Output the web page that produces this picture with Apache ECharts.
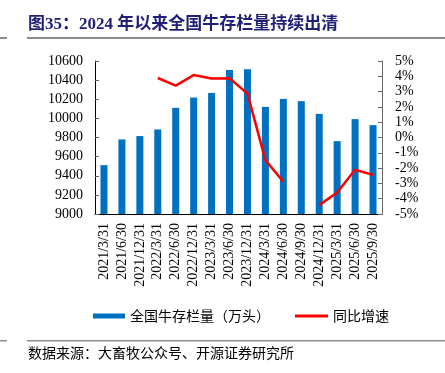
<!DOCTYPE html>
<html><head><meta charset="utf-8">
<script src="https://cdn.jsdelivr.net/npm/echarts@6/dist/echarts.min.js"></script>
<style>html,body{margin:0;padding:0;background:#fff}#c{width:445px;height:373px}</style>
</head><body><div id="c"></div>
<script>
const categories = ['2021/3/31','2021/6/30','2021/12/31','2022/3/31','2022/6/30','2022/12/31','2023/3/31','2023/6/30','2023/12/31','2024/3/31','2024/6/30','2024/9/30','2024/12/31','2025/3/31','2025/6/30','2025/9/30'];
const stock = [9511, 9780, 9815, 9884, 10110, 10218, 10266, 10506, 10514, 10120, 10204, 10180, 10047, 9762, 9992, 9929];
const yoy = [null, null, null, 3.89, 3.39, 4.08, 3.85, 3.87, 2.87, -1.48, -2.89, null, -4.42, -3.59, -2.11, -2.44];
const leftTicks = [9000, 10600, 200];
const rightTicks = [-5, 5, 1];

const serif = "'Liberation Serif', 'Noto Sans CJK SC', serif";
const cjk = "'Noto Sans CJK SC', sans-serif";
const chart = echarts.init(document.getElementById('c'));
chart.setOption({
  animation: false,
  grid: { left: 95, right: 63, top: 61, bottom: 159 },
  legend: [
    { data: [{ name: '全国牛存栏量（万头）', icon: 'rect' }], left: 88, top: 304, itemWidth: 32, itemHeight: 5, itemGap: 5,
      textStyle: { fontFamily: cjk, fontSize: 14, color: '#000' } },
    { data: [{ name: '同比增速', icon: 'rect' }], left: 290, top: 304, itemWidth: 33, itemHeight: 3, itemGap: 5,
      textStyle: { fontFamily: cjk, fontSize: 14, color: '#000' } }
  ],
  xAxis: {
    type: 'category', data: categories,
    axisLine: { onZero: false, lineStyle: { color: '#000', width: 1 } },
    axisTick: { inside: true, length: 3, lineStyle: { color: '#666' } },
    axisLabel: { rotate: 90, margin: 9, fontFamily: serif, fontSize: 14, color: '#000', interval: 0 }
  },
  yAxis: [
    { type: 'value', min: leftTicks[0], max: leftTicks[1], interval: leftTicks[2],
      splitLine: { show: false },
      axisLine: { show: true, lineStyle: { color: '#000' } },
      axisTick: { show: true, inside: true, length: 4, lineStyle: { color: '#666' } },
      axisLabel: { margin: 12, fontFamily: serif, fontSize: 14, color: '#000', formatter: v => String(v) } },
    { type: 'value', min: rightTicks[0], max: rightTicks[1], interval: rightTicks[2], position: 'right',
      splitLine: { show: false },
      axisLine: { show: true, lineStyle: { color: '#666' } },
      axisTick: { show: true, inside: true, length: 4, lineStyle: { color: '#666' } },
      axisLabel: { margin: 13, fontFamily: serif, fontSize: 14, color: '#000', formatter: '{value}%' } }
  ],
  series: [
    { name: '全国牛存栏量（万头）', type: 'bar', data: stock, barWidth: 7, itemStyle: { color: '#0070C0' } },
    { name: '同比增速', type: 'line', yAxisIndex: 1, data: yoy, symbol: 'none', connectNulls: false,
      lineStyle: { color: '#FF0000', width: 2.5 }, itemStyle: { color: '#FF0000' } }
  ],
  graphic: [
    { type: 'text', left: 28, top: 16, style: { text: '图35：2024 年以来全国牛存栏量持续出清', fontFamily: serif, fontWeight: 'bold', fontSize: 17, fill: '#1F1F78' } },
    { type: 'rect', shape: { x: 27, y: 37, width: 418, height: 2 }, style: { fill: '#8c8c8c' } },
    { type: 'rect', shape: { x: 0, y: 37, width: 7, height: 2 }, style: { fill: '#8c8c8c' } },
    { type: 'rect', shape: { x: 27, y: 340, width: 418, height: 1.5 }, style: { fill: '#8c8c8c' } },
    { type: 'rect', shape: { x: 0, y: 340, width: 7, height: 1.5 }, style: { fill: '#8c8c8c' } },
    { type: 'text', left: 28, top: 346, style: { text: '数据来源：大畜牧公众号、开源证券研究所', fontFamily: cjk, fontSize: 14, fill: '#000' } }
  ]
});
</script></body></html>
